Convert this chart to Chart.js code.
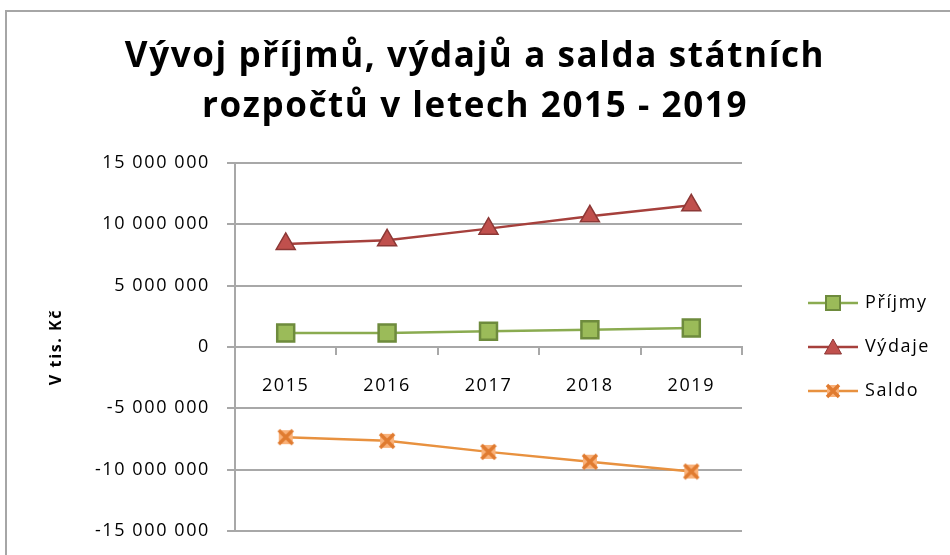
<!DOCTYPE html>
<html lang="cs">
<head>
<meta charset="utf-8">
<title>Vývoj příjmů, výdajů a salda státních rozpočtů</title>
<script src="https://cdn.jsdelivr.net/npm/chart.js@4.4.1/dist/chart.umd.min.js"></script>
<style>
  html, body { margin: 0; padding: 0; background: #fff; overflow: hidden; }
  #frame {
    position: absolute; left: 5px; top: 10px; width: 1000px; height: 600px;
    border-top: 2px solid #a6a6a6; border-left: 2px solid #a6a6a6;
  }
  #chart { position: absolute; left: 0; top: 0; }
</style>
</head>
<body>
<div id="frame"></div>
<canvas id="chart" width="950" height="555"></canvas>
<script>
// data (tis. Kč)
var years = ['2015', '2016', '2017', '2018', '2019'];
var prijmy = [1140000, 1140000, 1280000, 1410000, 1540000];
var vydaje = [8400000, 8700000, 9650000, 10650000, 11550000];
var saldo = [-7350000, -7650000, -8550000, -9350000, -10150000];
var seriesNames = ['Příjmy', 'Výdaje', 'Saldo'];
var titleLines = ['Vývoj příjmů, výdajů a salda státních', 'rozpočtů v letech 2015 - 2019'];
var yTitle = 'V tis. Kč';

var FONT = "'Open Sans', sans-serif";
var GRID = '#a8a8a8';
var LETTER_SPACING = '1.6px';

// marker X se světlou výplní (Saldo)
function xMarker(size) {
  var c = document.createElement('canvas');
  c.width = size; c.height = size;
  var g = c.getContext('2d');
  g.fillStyle = '#fab27a';
  g.fillRect(2, 2, size - 4, size - 4);
  g.strokeStyle = '#e07b30';
  g.lineWidth = 3.5;
  g.beginPath();
  g.moveTo(2, 2); g.lineTo(size - 2, size - 2);
  g.moveTo(size - 2, 2); g.lineTo(2, size - 2);
  g.stroke();
  return c;
}

// ikona legendy: čára + marker
function legendIcon(kind, lineColor) {
  var c = document.createElement('canvas');
  c.width = 50; c.height = 22;
  var g = c.getContext('2d');
  g.strokeStyle = lineColor; g.lineWidth = 2.5;
  g.beginPath(); g.moveTo(0, 11); g.lineTo(50, 11); g.stroke();
  if (kind === 'rect') {
    g.fillStyle = '#9bbb59'; g.strokeStyle = '#6e8b3d'; g.lineWidth = 2;
    g.fillRect(18, 4, 14, 14); g.strokeRect(18, 4, 14, 14);
  } else if (kind === 'triangle') {
    g.fillStyle = '#c0504d'; g.strokeStyle = '#8c3836'; g.lineWidth = 1;
    g.beginPath(); g.moveTo(25, 3); g.lineTo(33.5, 18); g.lineTo(16.5, 18); g.closePath();
    g.fill(); g.stroke();
  } else {
    g.drawImage(xMarker(16), 17, 3);
  }
  return c;
}

var legendIcons = [
  legendIcon('rect', '#8aab50'),
  legendIcon('triangle', '#a6403c'),
  legendIcon('x', '#e8913f')
];

function fmt(v) {
  var s = Math.abs(v).toString().replace(/\B(?=(\d{3})+(?!\d))/g, ' ');
  return (v < 0 ? '-' : '') + s;
}

var layoutPlugin = {
  id: 'layoutFix',
  afterInit: function (chart) { chart.ctx.letterSpacing = LETTER_SPACING; },
  beforeUpdate: function (chart) {
    chart.ctx.letterSpacing = LETTER_SPACING;
    var leg = chart.legend;
    if (leg && !leg._fitPatched) {
      var fit = leg.fit;
      leg.fit = function () { fit.call(this); this.width = 208; };
      leg._fitPatched = true;
    }
  },
  afterLayout: function (chart) {
    var leg = chart.legend, area = chart.chartArea;
    leg.left += 42;
    leg.right += 42;
    leg.top = area.top;
    leg.bottom = area.bottom;
    leg.height = area.bottom - area.top;
  },
  beforeDraw: function (chart) { chart.ctx.letterSpacing = LETTER_SPACING; }
};

var tickFont = { family: FONT, size: 18 };

new Chart(document.getElementById('chart'), {
  type: 'line',
  data: {
    labels: years,
    datasets: [
      {
        label: seriesNames[0], data: prijmy,
        borderColor: '#8aab50', borderWidth: 2.5, tension: 0,
        pointStyle: 'rect', pointRadius: 12, pointBorderWidth: 2.5,
        pointBackgroundColor: '#9bbb59', pointBorderColor: '#6e8b3d'
      },
      {
        label: seriesNames[1], data: vydaje,
        borderColor: '#a6403c', borderWidth: 2.5, tension: 0,
        pointStyle: 'triangle', pointRadius: 11, pointBorderWidth: 1.5,
        pointBackgroundColor: '#c0504d', pointBorderColor: '#8c3836'
      },
      {
        label: seriesNames[2], data: saldo,
        borderColor: '#e8913f', borderWidth: 2.5, tension: 0,
        pointStyle: xMarker(18), pointRadius: 9
      }
    ]
  },
  options: {
    responsive: false,
    animation: false,
    layout: { padding: { left: 0, right: 0, top: 0, bottom: 24 } },
    plugins: {
      title: {
        display: true,
        text: titleLines,
        color: '#000',
        font: { family: FONT, size: 35, weight: 'bold', lineHeight: 50 / 35 },
        padding: { top: 32, bottom: 31 }
      },
      legend: {
        position: 'right',
        align: 'center',
        labels: {
          usePointStyle: true,
          pointStyleWidth: 46,
          padding: 26,
          color: '#000',
          font: tickFont,
          generateLabels: function (chart) {
            return seriesNames.map(function (name, i) {
              return {
                text: name, pointStyle: legendIcons[i], datasetIndex: i,
                fillStyle: 'transparent', strokeStyle: 'transparent', lineWidth: 0, hidden: false
              };
            });
          }
        }
      },
      tooltip: { enabled: false }
    },
    scales: {
      x: {
        position: { y: 0 },
        offset: true,
        grid: { display: true, drawOnChartArea: false, offset: true, tickLength: 7, color: GRID, lineWidth: 2 },
        border: { color: GRID, width: 2 },
        ticks: { padding: 21, color: '#000', font: tickFont, maxRotation: 0 }
      },
      y: {
        min: -15000000,
        max: 15000000,
        afterFit: function (scale) {
          scale.width = 235;
          scale.paddingTop = 10;
          scale.paddingBottom = 10;
        },
        ticks: { stepSize: 5000000, padding: 17, color: '#000', font: tickFont, callback: fmt },
        grid: { color: GRID, lineWidth: 2, tickLength: 8 },
        border: { color: GRID, width: 2 },
        title: {
          display: true, text: yTitle, color: '#000',
          font: { family: FONT, size: 16, weight: 'bold' },
          padding: { top: 47, bottom: 0 }
        }
      }
    }
  },
  plugins: [layoutPlugin]
});
</script>
</body>
</html>
